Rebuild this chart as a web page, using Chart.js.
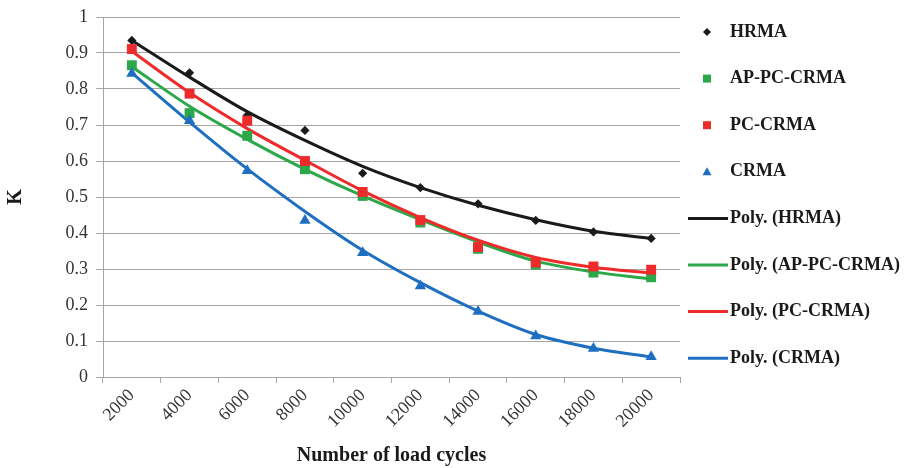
<!DOCTYPE html>
<html>
<head>
<meta charset="utf-8">
<script src="https://cdn.jsdelivr.net/npm/chart.js@4/dist/chart.umd.min.js"></script>
<style>
  html, body { margin: 0; padding: 0; background: #fff; }
  #wrap { width: 905px; height: 468px; position: relative; }
</style>
</head>
<body>
<div id="wrap"><canvas id="kChart"></canvas></div>
<script>
// load cycles on the x axis
const cycles = ['2000', '4000', '6000', '8000', '10000', '12000', '14000', '16000', '18000', '20000'];

// measured points
const hrma      = [0.935, 0.845, 0.727, 0.685, 0.566, 0.526, 0.481, 0.435, 0.403, 0.385];
const apPcCrma  = [0.866, 0.733, 0.670, 0.577, 0.503, 0.429, 0.356, 0.312, 0.290, 0.277];
const pcCrma    = [0.911, 0.787, 0.712, 0.600, 0.514, 0.436, 0.361, 0.318, 0.307, 0.298];
const crma      = [0.843, 0.712, 0.573, 0.435, 0.345, 0.253, 0.182, 0.114, 0.079, 0.056];

// poly trend lines at each category
const polyHrma     = [0.935, 0.833, 0.737, 0.657, 0.585, 0.526, 0.477, 0.437, 0.405, 0.385];
const polyApPcCrma = [0.862, 0.752, 0.660, 0.577, 0.503, 0.437, 0.375, 0.322, 0.292, 0.272];
const polyPcCrma   = [0.905, 0.790, 0.690, 0.602, 0.517, 0.443, 0.380, 0.332, 0.305, 0.289];
const polyCrma     = [0.845, 0.708, 0.578, 0.460, 0.352, 0.262, 0.183, 0.118, 0.080, 0.056];

const yTicksMax = 1;
const yStep = 0.1;

const BLACK = '#1a1a1a', GREEN = '#2ca84a', RED = '#ee2a2a', BLUE = '#1f6fc1';
const SERIF = "'Liberation Serif', 'Times New Roman', serif";

function markers(label, data, color, style, radius, order) {
    return {
        label: label, data: data, showLine: false, order: order,
        pointStyle: style, pointRadius: radius, pointHoverRadius: radius,
        pointBackgroundColor: color, pointBorderColor: color, pointBorderWidth: 0,
        backgroundColor: color, borderColor: color
    };
}

function trend(label, data, color, order) {
    return {
        label: label, data: data, showLine: true, order: order,
        borderColor: color, backgroundColor: color, borderWidth: 3,
        pointRadius: 0, pointHoverRadius: 0,
        tension: 0.4, cubicInterpolationMode: 'monotone', fill: false
    };
}

// legend on the right, drawn like the Excel one
const sideLegend = {
    id: 'sideLegend',
    afterDraw(chart) {
        const ctx = chart.ctx;
        ctx.save();
        ctx.font = 'bold 18px ' + SERIF;
        ctx.textBaseline = 'middle';
        chart.data.datasets.forEach((ds, i) => {
            const y = 32 + i * 46.6;
            const c = ds.borderColor;
            ctx.fillStyle = c;
            ctx.strokeStyle = c;
            if (ds.showLine) {
                ctx.lineWidth = 3;
                ctx.beginPath();
                ctx.moveTo(688, y);
                ctx.lineTo(728, y);
                ctx.stroke();
            } else if (ds.pointStyle === 'rectRot') {
                ctx.beginPath();
                ctx.moveTo(707, y - 4); ctx.lineTo(711, y); ctx.lineTo(707, y + 4); ctx.lineTo(703, y);
                ctx.closePath(); ctx.fill();
            } else if (ds.pointStyle === 'rect') {
                ctx.fillRect(703, y - 4, 8, 8);
            } else {
                ctx.beginPath();
                ctx.moveTo(707, y - 4.5); ctx.lineTo(711.5, y + 3.5); ctx.lineTo(702.5, y + 3.5);
                ctx.closePath(); ctx.fill();
            }
            ctx.fillStyle = '#1a1a1a';
            ctx.fillText(ds.label, 730, y);
        });
        ctx.restore();
    }
};

document.addEventListener('DOMContentLoaded', function () {
    new Chart(document.getElementById('kChart'), {
        type: 'line',
        data: {
            labels: cycles,
            datasets: [
                markers('HRMA', hrma, BLACK, 'rectRot', 4.6, 4),
                markers('AP-PC-CRMA', apPcCrma, GREEN, 'rect', 7, 3),
                markers('PC-CRMA', pcCrma, RED, 'rect', 7, 2),
                markers('CRMA', crma, BLUE, 'triangle', 6.5, 1),
                trend('Poly. (HRMA)', polyHrma, BLACK, 13),
                trend('Poly. (AP-PC-CRMA)', polyApPcCrma, GREEN, 12),
                trend('Poly. (PC-CRMA)', polyPcCrma, RED, 11),
                trend('Poly. (CRMA)', polyCrma, BLUE, 10)
            ]
        },
        options: {
            responsive: true,
            maintainAspectRatio: false,
            animation: false,
            layout: { padding: { left: 0, right: 225, top: 0, bottom: 0 } },
            plugins: { legend: { display: false }, tooltip: { enabled: false } },
            scales: {
                x: {
                    type: 'category',
                    offset: true,
                    grid: { offset: true, drawOnChartArea: false, drawTicks: true, tickLength: 6, color: '#a6a6a6' },
                    border: { color: '#a6a6a6' },
                    ticks: { minRotation: 45, maxRotation: 45, padding: 2, color: '#333', font: { family: SERIF, size: 18 } },
                    title: { display: true, text: 'Number of load cycles', color: '#1a1a1a',
                             font: { family: SERIF, size: 20, weight: 'bold' }, padding: { top: 0, bottom: 0 } },
                    afterFit: s => { s.height = 91; s.paddingLeft = 0; s.paddingRight = 0; }
                },
                y: {
                    min: 0, max: yTicksMax,
                    ticks: { stepSize: yStep, padding: 8, color: '#333', font: { family: SERIF, size: 18 },
                             callback: v => String(Number(v.toFixed(2))) },
                    grid: { color: '#a6a6a6', tickLength: 7 },
                    border: { color: '#a6a6a6' },
                    title: { display: true, text: 'K', color: '#1a1a1a',
                             font: { family: SERIF, size: 20, weight: 'bold' }, padding: { top: 4, bottom: 0 } },
                    afterFit: s => { s.width = 103; s.paddingTop = 17; s.paddingBottom = 0; }
                }
            }
        },
        plugins: [sideLegend]
    });
});
</script>
</body>
</html>
